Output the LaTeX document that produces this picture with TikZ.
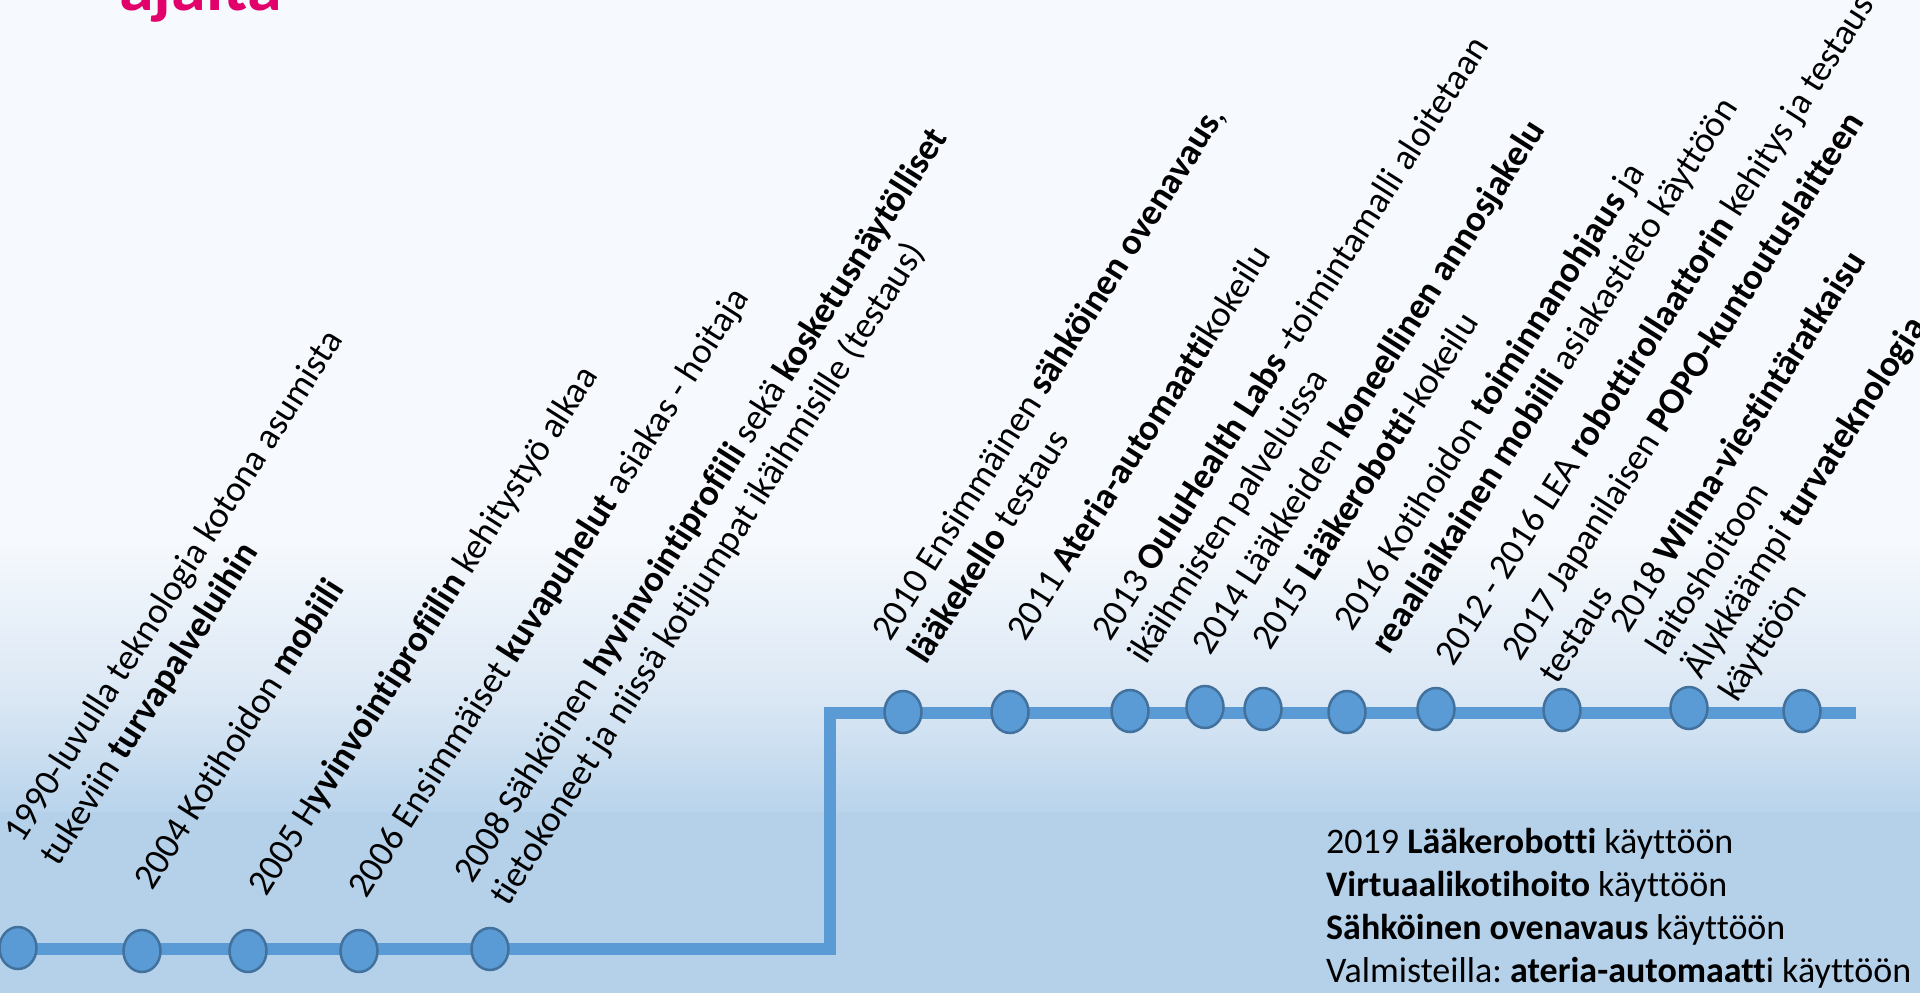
\documentclass[tikz,border=0pt]{standalone}
\usepackage{fontspec}
\setmainfont{Carlito}[Ligatures=NoCommon]
\usetikzlibrary{shapes.geometric}
\definecolor{bgtop}{HTML}{F6F9FD}
\definecolor{bgmid}{HTML}{DAE7F4}
\definecolor{bglow}{HTML}{B9D4EC}
\definecolor{bgbot}{HTML}{B5D1EA}
\definecolor{tlblue}{HTML}{5B9BD5}
\definecolor{tledge}{HTML}{41719C}
\definecolor{titlemag}{HTML}{E2006A}
\frenchspacing
\begin{document}
\begin{tikzpicture}[x=1pt,y=-1pt,
  dot/.style={ellipse, draw=tledge, fill=tlblue, line width=2.5pt, minimum width=37pt, minimum height=42pt, inner sep=0pt},
  lbl/.style={rotate=57.5, anchor=base west, inner sep=0pt, font=\fontsize{36.6}{43}\selectfont},
  tline/.style={draw=tlblue, line width=12pt, line join=miter},
  note/.style={anchor=base west, inner sep=0pt, font=\fontsize{36}{43}\selectfont}]
\useasboundingbox (0,0) rectangle (1920,993);
% background
\fill[bgtop] (0,0) rectangle (1920,993);
\shade[top color=bgtop, bottom color=bgmid] (0,540) rectangle (1920,700.5);
\shade[top color=bgmid, bottom color=bglow] (0,700) rectangle (1920,812.5);
\fill[bgbot] (0,812) rectangle (1920,993);
% title
\node[anchor=base west, inner sep=0pt, font=\fontsize{70}{74}\selectfont\bfseries, text=titlemag] (title) at (119,10) {ajalta};
% timeline
\coordinate (c0) at (18,949);
\coordinate (cornerA) at (829.5,949);
\coordinate (cornerB) at (829.5,712.5);
\coordinate (lineend) at (1856,712.5);
\draw[tline] (c0) -- (cornerA) -- (cornerB) -- (lineend);
% bottom dots
\node[dot] (b1) at (18,948) {};
\node[dot] (b2) at (142,951) {};
\node[dot] (b3) at (248,951) {};
\node[dot] (b4) at (359,951) {};
\node[dot] (b5) at (490,949) {};
% top dots
\node[dot] (t1) at (903,712) {};
\node[dot] (t2) at (1010,712) {};
\node[dot] (t3) at (1130,711) {};
\node[dot] (t4) at (1205,707) {};
\node[dot] (t5) at (1263,709) {};
\node[dot] (t6) at (1347,712) {};
\node[dot] (t7) at (1436,709) {};
\node[dot] (t8) at (1562,710) {};
\node[dot] (t9) at (1689,708) {};
\node[dot] (t10) at (1802,711) {};
% rotated labels
\node[lbl] (l1a) at (22,845) {1990-luvulla teknologia kotona asumista};
\node[lbl] (l1b) at (58,868) {tukeviin \textbf{turvapalveluihin}};
\node[lbl] (l2) at (152,892) {2004 Kotihoidon \textbf{mobiili}};
\node[lbl] (l3) at (266,898) {2005 H\textbf{yvinvointiprofiilin} kehitystyö alkaa};
\node[lbl] (l4) at (366,900) {2006 Ensimmäiset \textbf{kuvapuhelut} asiakas - hoitaja};
\node[lbl] (l5a) at (472,885) {2008 Sähköinen \textbf{hyvinvointiprofiili} sekä \textbf{kosketusnäytölliset}};
\node[lbl] (l5b) at (508,908) {tietokoneet ja niissä kotijumpat ikäihmisille (testaus)};
\node[lbl] (l6a) at (890,643) {2010 Ensimmäinen \textbf{sähköinen ovenavaus},};
\node[lbl] (l6b) at (926,666) {\textbf{lääkekello} testaus};
\node[lbl] (l7) at (1025,643) {2011 \textbf{Ateria-automaatti}kokeilu};
\node[lbl] (l8a) at (1110,643) {2013 \textbf{OuluHealth Labs} -toimintamalli aloitetaan};
\node[lbl] (l8b) at (1146,666) {ikäihmisten palveluissa};
\node[lbl] (l9) at (1210,657) {2014 Lääkkeiden \textbf{koneellinen annosjakelu}};
\node[lbl] (l10) at (1270,652) {2015 \textbf{Lääkerobotti}-kokeilu};
\node[lbl] (l11a) at (1352,633) {2016 Kotihoidon \textbf{toiminnanohjaus} ja};
\node[lbl] (l11b) at (1389,656) {\textbf{reaaliaikainen mobiili} asiakastieto käyttöön};
\node[lbl] (l12) at (1453,668) {2012 - 2016 LEA \textbf{robottirollaattorin} kehitys ja testaus};
\node[lbl] (l13a) at (1520,663) {2017 Japanilaisen \textbf{POPO-kuntoutuslaitteen}};
\node[lbl] (l13b) at (1557,686) {testaus};
\node[lbl] (l14a) at (1628,635) {2018 \textbf{Wilma-viestintäratkaisu}};
\node[lbl] (l14b) at (1664,658) {laitoshoitoon};
\node[lbl] (l14c) at (1701,681) {Älykkäämpi \textbf{turvateknologia}};
\node[lbl] (l14d) at (1737,704) {käyttöön};
% bottom-right notes
\node[note] (n1) at (1326,853) {2019 \textbf{Lääkerobotti} käyttöön};
\node[note] (n2) at (1326,896) {\textbf{Virtuaalikotihoito} käyttöön};
\node[note] (n3) at (1326,939) {\textbf{Sähköinen ovenavaus} käyttöön};
\node[note] (n4) at (1326,982) {Valmisteilla: \textbf{ateria-automaatt}i käyttöön};
\end{tikzpicture}
\end{document}
